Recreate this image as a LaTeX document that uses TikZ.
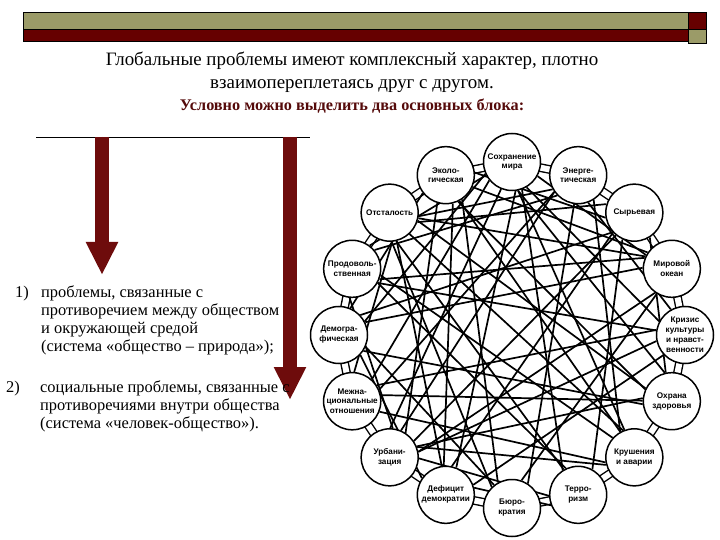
\documentclass[tikz,border=0pt]{standalone}
\usepackage{fontspec}
\setmainfont{Liberation Serif}
\newfontfamily\nodefont{Liberation Sans}
\usetikzlibrary{arrows.meta}
\definecolor{barolive}{RGB}{155,155,104}
\definecolor{bardred}{RGB}{102,0,0}
\definecolor{arrowred}{RGB}{110,12,12}
\definecolor{titlered}{RGB}{85,10,10}
\pgfdeclarelayer{paper}
\pgfdeclarelayer{bg}
\pgfsetlayers{paper,bg,main}
\tikzset{
 prob/.style={circle, draw, line width=1.5bp, fill=white, minimum size=57bp, inner sep=0pt, align=center,
   font=\nodefont\bfseries\fontsize{8.2}{10}\selectfont},
 link/.style={line width=1.7bp},
 ring/.style={double, double distance=6bp, line width=1.4bp},
 bigarrow/.style={line width=14bp, draw=arrowred, fill=arrowred, -{Triangle[width=30bp,length=33bp]}},
 itemtext/.style={anchor=base west, align=left, inner sep=0pt, font=\fontsize{16.5}{18}\selectfont},
 barframe/.style={draw=black, line width=0.8bp},
}
\begin{document}
\begin{tikzpicture}[x=1bp,y=-1bp]
\useasboundingbox (0,0) rectangle (720,540);
\begin{pgfonlayer}{paper}
\fill[white] (0,0) rectangle (720,540);
\end{pgfonlayer}
% top bar
\filldraw[barframe, fill=barolive] (23,12) rectangle (688,29);
\filldraw[barframe, fill=bardred] (23,29) rectangle (688,41);
\filldraw[barframe, fill=bardred] (688,12) rectangle (706,29);
\filldraw[barframe, fill=barolive] (688,29) rectangle (706,43);
% title (base anchor = baseline of last line)
\node[align=center, anchor=base, inner sep=0pt, font=\fontsize{19}{23}\selectfont] (title) at (352,111)
 {Глобальные проблемы имеют комплексный характер, плотно\\
  взаимопереплетаясь друг с другом.\\
  \textcolor{titlered}{\bfseries\fontsize{16.3}{23}\selectfont Условно можно выделить два основных блока:}};
% horizontal line and arrows
\coordinate (hl1) at (36,137);
\coordinate (hl2) at (310,137);
\draw[line width=0.8bp] (hl1) -- (hl2);
\coordinate (a1s) at (102,137);
\coordinate (a1e) at (102,275);
\coordinate (a2s) at (290,137);
\coordinate (a2e) at (290,400);
\draw[bigarrow] (a1s) -- (a1e);
\draw[bigarrow] (a2s) -- (a2e);
% items
\node[itemtext] (num1) at (15,297) {1)};
\node[itemtext] (item1) at (41,351) {проблемы, связанные с\\противоречием между обществом\\и окружающей средой\\(система «общество – природа»);};
\node[itemtext] (num2) at (6,392) {2)};
\node[itemtext] (item2) at (40,428) {социальные проблемы, связанные с\\противоречиями внутри общества\\(система «человек-общество»).};
% problem circles
\foreach \i/\t in {0/{Сохранение\\мира},1/{Энерге-\\тическая},2/{Сырьевая},3/{Мировой\\океан},
  4/{Кризис\\культуры\\и нравст-\\венности},5/{Охрана\\здоровья},6/{Крушения\\и аварии},7/{Терро-\\ризм},
  8/{Бюро-\\кратия},9/{Дефицит\\демократии},10/{Урбани-\\зация},11/{Межна-\\циональные\\отношения},
  12/{Демогра-\\фическая},13/{Продоволь-\\ственная},14/{Отсталость},15/{Эколо-\\гическая}}
  \node[prob] (n\i) at ({512+173*cos(90-22.5*\i)},{335-173*sin(90-22.5*\i)}) {\t};
\begin{pgfonlayer}{bg}
% ring between neighbours
\foreach \i in {0,...,15}{
  \pgfmathtruncatemacro{\j}{mod(\i+1,16)}
  \draw[ring] (n\i.center) -- (n\j.center);
}
% chords, leaving each circle at a spread of border points
\foreach \a/\b in {0/3,0/4,0/5,0/6,0/7,0/9,0/10,0/11,0/12,0/13,
  15/2,15/3,15/5,15/6,15/8,15/9,15/10,15/12,
  1/4,1/6,1/8,1/10,1/11,1/13,1/14,
  2/5,2/7,2/9,2/10,2/12,2/14,
  3/8,3/10,3/12,3/13,3/14,
  4/9,4/10,4/11,4/13,
  5/10,5/12,5/11,5/14,
  6/10,6/11,6/13,6/14,
  7/9,7/10,7/13,7/14,
  8/12,8/14,9/12,9/14,10/13,11/14}{
  \pgfmathsetmacro{\ta}{90-22.5*\a}
  \pgfmathsetmacro{\tb}{90-22.5*\b}
  \pgfmathsetmacro{\dab}{atan2(sin(\tb)-sin(\ta),cos(\tb)-cos(\ta))}
  \pgfmathsetmacro{\pa}{\dab+22*sin(97*\a+53*\b+11)}
  \pgfmathsetmacro{\pb}{\dab+180+22*sin(61*\a+113*\b+37)}
  \draw[link] (n\a.\pa) -- (n\b.\pb);
}
\end{pgfonlayer}
\end{tikzpicture}
\end{document}
